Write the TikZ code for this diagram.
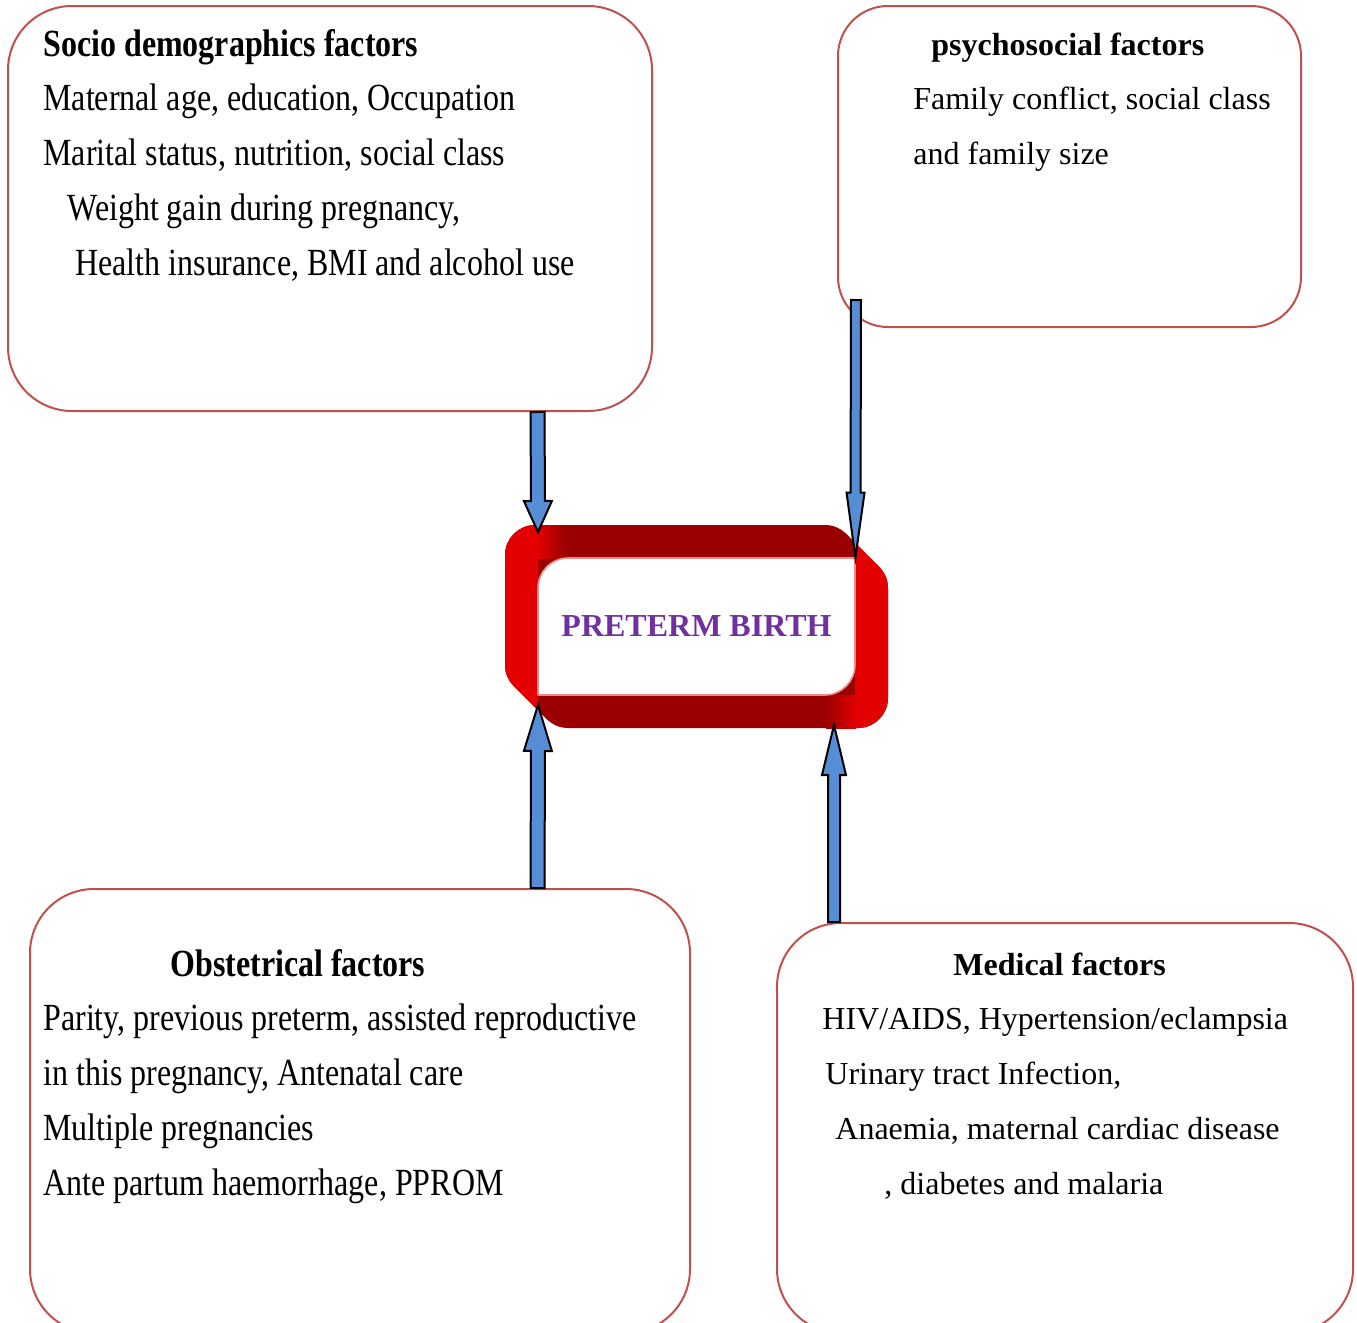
\documentclass[tikz,border=0pt]{standalone}
\usepackage{fontspec}
\setmainfont{Liberation Serif}
\newfontfamily\tallserif[FakeStretch=0.833]{Liberation Serif}
\usetikzlibrary{calc}

\definecolor{boxred}{RGB}{192,80,77}
\definecolor{arrowblue}{RGB}{85,142,213}
\definecolor{ribbondark}{RGB}{155,0,0}
\definecolor{ribbonbright}{RGB}{226,0,0}
\definecolor{rimred}{RGB}{232,140,140}
\definecolor{birthpurple}{RGB}{112,48,160}

\tikzset{
  factorbox/.style={draw=boxred, line width=1pt, rectangle, anchor=north west, inner sep=0pt},
  blockarrow/.style={draw=black, fill=arrowblue, line width=1pt, line join=miter},
  lefttext/.style={anchor=base west, inner sep=0pt, font=\tallserif\fontsize{19.2}{23}\selectfont},
  lefttitle/.style={lefttext, font=\tallserif\bfseries\fontsize{19.2}{23}\selectfont},
  righttext/.style={anchor=base west, inner sep=0pt, font=\fontsize{16}{19}\selectfont},
  righttitle/.style={righttext, font=\bfseries\fontsize{16}{19}\selectfont},
  birthtext/.style={minimum width=158.5pt, minimum height=68.5pt, inner sep=0pt,
    text=birthpurple, font=\bfseries\fontsize{16}{19}\selectfont}
}

% block arrow: tail, tip, shaft half width, head half width, head length
\newcommand{\blockarrow}[5]{%
  \coordinate (hb) at ($(#2)!#5!(#1)$);
  \draw[blockarrow] ($(#1)!#3!90:(#2)$) -- ($(hb)!#3!-90:(#1)$) -- ($(hb)!#4!-90:(#1)$)
    -- (#2) -- ($(hb)!#4!90:(#1)$) -- ($(hb)!#3!90:(#1)$) -- ($(#1)!#3!-90:(#2)$) -- cycle;}

\begin{document}
\begin{tikzpicture}[x=0.5pt, y=-0.5pt]
    \useasboundingbox (0,0) rectangle (1357,1323);
    \clip (0,0) rectangle (1357,1323);

    % the four factor boxes
    \node[factorbox, rounded corners=32pt, minimum width=322pt, minimum height=202.5pt] (socio) at (7,5) {};
    \node[factorbox, rounded corners=25pt, minimum width=231.5pt, minimum height=160.5pt] (psycho) at (837,5) {};
    \node[factorbox, rounded corners=32pt, minimum width=330pt, minimum height=222pt] (obstet) at (29,888) {};
    \node[factorbox, rounded corners=32pt, minimum width=288pt, minimum height=205pt] (medical) at (776,922) {};

    % socio demographics
    \node[lefttitle] (socio-title) at (43,56) {Socio demographics factors};
    \foreach \dx/\dy/\txt [count=\i] in {43/110/{Maternal age, education, Occupation},
        43/165/{Marital status, nutrition, social class},
        67/220/{Weight gain during pregnancy,},
        75/275/{Health insurance, BMI and alcohol use}}
        \node[lefttext] (socio-\i) at (\dx,\dy) {\txt};

    % psychosocial
    \node[righttitle] (psycho-title) at (931,55) {psychosocial factors};
    \node[righttext] (psycho-1) at (913,109) {Family conflict, social class};
    \node[righttext] (psycho-2) at (913,164) {and family size};

    % obstetrical
    \node[lefttitle] (obstet-title) at (170,976) {Obstetrical factors};
    \foreach \dx/\dy/\txt [count=\i] in {43/1030/{Parity, previous preterm, assisted reproductive},
        43/1085/{in this pregnancy, Antenatal care},
        43/1140/{Multiple pregnancies},
        43/1195/{Ante partum haemorrhage, PPROM}}
        \node[lefttext] (obstet-\i) at (\dx,\dy) {\txt};

    % medical
    \node[righttitle] (medical-title) at (953,975) {Medical factors};
    \foreach \dx/\dy/\txt [count=\i] in {822/1029/{HIV/AIDS, Hypertension/eclampsia},
        825/1084/{Urinary tract Infection,},
        835/1139/{Anaemia, maternal cardiac disease},
        884/1194/{, diabetes and malaria}}
        \node[righttext] (medical-\i) at (\dx,\dy) {\txt};

    % preterm birth ribbon: back frame, front frame and the two bevels
    \fill[ribbondark, rounded corners=15pt] (505,525) rectangle (855,695);
    \fill[ribbondark, rounded corners=15pt] (538,558) rectangle (888,728);
    \fill[ribbondark] (846.2,533.8) -- (879.2,566.8) -- (858,588) -- (825,555) -- cycle;
    \fill[ribbondark] (513.8,686.2) -- (546.8,719.2) -- (568,698) -- (535,665) -- cycle;
    \begin{scope}
        \clip (500,500) rectangle (538,740);
        \fill[ribbonbright, rounded corners=15pt] (505,525) rectangle (855,695);
        \fill[ribbonbright] (513.8,686.2) -- (546.8,719.2) -- (568,698) -- (535,665) -- cycle;
    \end{scope}
    \begin{scope}
        \clip (855,500) rectangle (900,740);
        \fill[ribbonbright, rounded corners=15pt] (538,558) rectangle (888,728);
        \fill[ribbonbright] (846.2,533.8) -- (879.2,566.8) -- (858,588) -- (825,555) -- cycle;
    \end{scope}
    \shade[left color=ribbonbright, right color=ribbondark] (537,525) rectangle (566,558);
    \shade[left color=ribbondark, right color=ribbonbright] (826,695) rectangle (856,728);

    % the white opening
    \fill[white, rounded corners=15pt] (538,558) rectangle (855,695);
    \fill[white] (825,558) rectangle (855,588);
    \fill[white] (538,665) rectangle (568,695);
    \draw[rimred, line width=0.8pt, rounded corners=15pt] (538,695) -- (538,558) -- (855,558);
    \draw[rimred, line width=0.8pt, rounded corners=15pt] (855,558) -- (855,695) -- (538,695);
    \node[birthtext] (birth) at (696.5,626.5) {PRETERM BIRTH};

    % arrow ends
    \coordinate (tail1) at (socio.south -| birth.west);
    \coordinate (tip1) at (538,532);
    \coordinate (tail2) at (856,300);
    \coordinate (tip2) at (birth.north east);
    \coordinate (tail3) at (obstet.north -| birth.west);
    \coordinate (tip3) at (538,705);
    \coordinate (tail4) at (834,922);
    \coordinate (tip4) at (834,725);

    \blockarrow{tail1}{tip1}{3.5pt}{7pt}{15.5pt}
    \blockarrow{tail2}{tip2}{2.5pt}{4.5pt}{32.5pt}
    \blockarrow{tail3}{tip3}{3.5pt}{7pt}{23pt}
    \blockarrow{tail4}{tip4}{3pt}{6pt}{25pt}
\end{tikzpicture}
\end{document}
